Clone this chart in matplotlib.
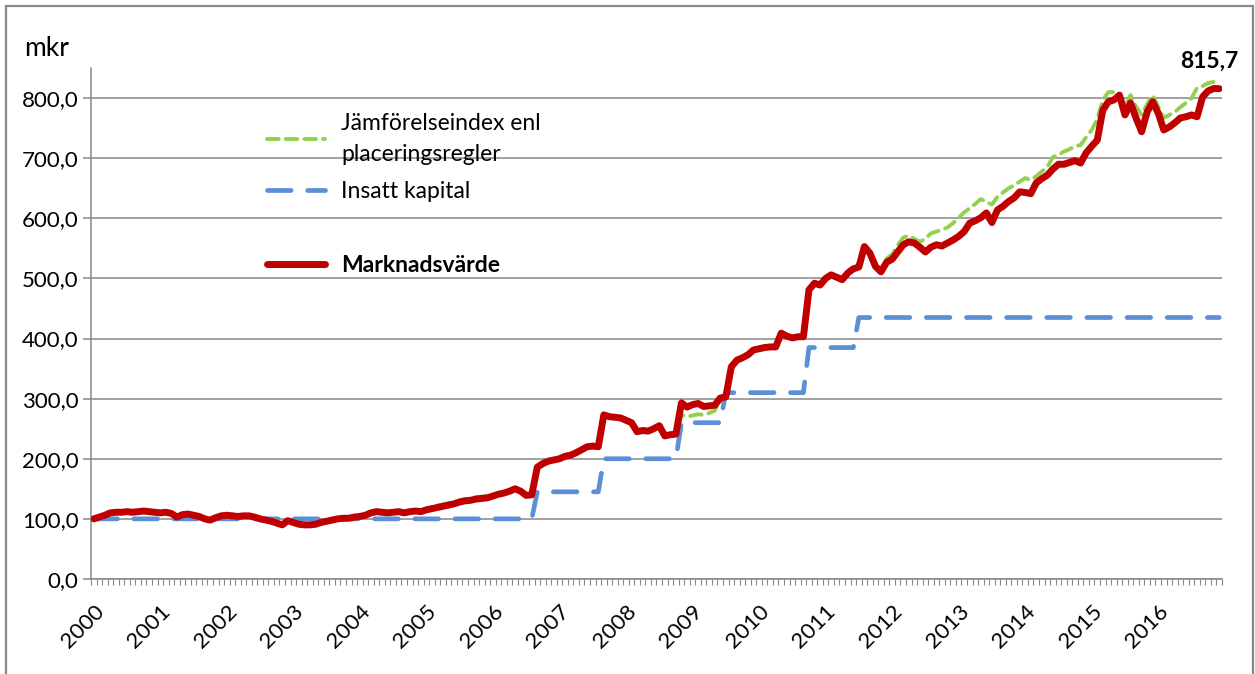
import numpy as np
import matplotlib.pyplot as plt
from matplotlib.patches import Rectangle
from matplotlib.ticker import FuncFormatter, FixedLocator

plt.rcParams['font.family'] = ['Lato', 'DejaVu Sans']

years = [str(y) for y in range(2000, 2017)]

# Marknadsvärde, monthly 2000-2016 (mkr)
marknad = [
    100, 103, 106, 110, 111, 111, 112, 111, 112, 113, 112, 111,
    110, 111, 109, 103, 107, 108, 106, 104, 100, 98, 102, 105,
    106, 105, 104, 105, 105, 103, 100, 98, 96, 93, 90, 97,
    94, 91, 90, 90, 91, 94, 96, 98, 100, 101, 101, 103,
    104, 106, 110, 112, 111, 110, 111, 112, 110, 112, 113, 112,
    115, 117, 119, 121, 123, 125, 128, 130, 131, 133, 134, 135,
    138, 141, 143, 146, 150, 146, 139, 140, 186, 192, 196, 198,
    200, 204, 206, 210, 215, 220, 221, 220, 273, 270, 269, 268,
    264, 260, 245, 247, 246, 250, 255, 238, 240, 241, 293, 286,
    290, 292, 287, 288, 289, 301, 303, 353, 364, 368, 373, 381,
    383, 385, 386, 386, 409, 404, 401, 403, 403, 481, 492, 489,
    500, 506, 502, 498, 509, 516, 519, 553, 542, 520, 511, 527,
    532, 544, 556, 561, 559, 552, 544, 552, 556, 554, 559, 564,
    570, 578, 592, 596, 601, 609, 593, 614, 620, 628, 634, 644,
    643, 641, 659, 666, 672, 682, 690, 690, 693, 696, 692, 709,
    720, 730, 780, 794, 797, 805, 772, 792, 767, 744, 777, 794,
    775, 747, 752, 759, 767, 769, 772, 769, 802, 812, 816, 815.7,
]

# Jämförelseindex enl placeringsregler
index = [
    100, 103, 106, 110, 111, 111, 112, 111, 112, 113, 112, 111,
    110, 111, 109, 103, 107, 108, 106, 104, 100, 98, 102, 105,
    106, 105, 104, 105, 105, 103, 100, 98, 96, 93, 90, 97,
    94, 91, 90, 90, 91, 94, 96, 98, 100, 101, 101, 103,
    104, 106, 110, 112, 111, 110, 111, 112, 111, 113, 114, 114,
    117, 119, 122, 124, 126, 128, 131, 133, 134, 136, 137, 138,
    140, 143, 145, 148, 151, 147, 140, 141, 188, 194, 198, 200,
    202, 206, 208, 212, 216, 221, 222, 221, 272, 270, 269, 268,
    264, 260, 246, 247, 247, 250, 255, 240, 241, 242, 273, 270,
    272, 274, 273, 276, 280, 298, 303, 355, 366, 370, 375, 383,
    385, 387, 388, 388, 410, 406, 402, 404, 405, 482, 493, 491,
    502, 507, 503, 499, 510, 517, 520, 553, 543, 522, 514, 533,
    540, 555, 568, 571, 566, 561, 566, 575, 578, 581, 585, 592,
    601, 610, 617, 624, 632, 627, 623, 636, 643, 650, 655, 661,
    667, 664, 670, 678, 685, 702, 706, 711, 715, 720, 722, 735,
    747, 765, 797, 810, 810, 808, 786, 805, 786, 772, 790, 805,
    786, 767, 772, 777, 785, 792, 800, 817, 820, 825, 827, 830,
]

# Insatt kapital: (first month index, level)
kapital_steps = [(0, 100), (80, 145), (92, 200), (106, 260), (114, 310), (129, 385), (138, 435)]
kapital = np.zeros(len(marknad))
for start, level in kapital_steps:
    kapital[start:] = level

x = np.arange(len(marknad))
fs = 16
fs_leg = 16.5

fig = plt.figure(figsize=(12.55, 6.74), dpi=100)
ax = fig.add_axes([0.0725, 0.141, 0.9012, 0.758])

l_idx, = ax.plot(x, index, color='#92D050', lw=2.8, dashes=(3, 1.8), dash_capstyle='round',
                 label='Jämförelseindex enl\nplaceringsregler', zorder=3)
l_kap, = ax.plot(x, kapital, color='#5B8FD6', lw=3.4, dashes=(5, 3.5), dash_capstyle='round',
                 label='Insatt kapital', zorder=3)
l_mv, = ax.plot(x, marknad, color='#C00000', lw=5, solid_joinstyle='round', solid_capstyle='round',
                label='Marknadsvärde', zorder=4)

ax.annotate(f"{marknad[-1]:.1f}".replace('.', ','), (x[-1], marknad[-1]),
            xytext=(-7, 20), textcoords='offset points', ha='center', va='center',
            fontsize=fs_leg, fontweight='bold')

ax.set_xlim(-0.5, len(x) - 0.5)
ax.set_ylim(0, 850)
ax.set_yticks(np.arange(0, 801, 100))
ax.yaxis.set_major_formatter(FuncFormatter(lambda v, p: f"{v:.1f}".replace('.', ',')))
ax.grid(axis='y', color='#888888', lw=1.1)
ax.set_axisbelow(True)

ax.set_xticks(np.arange(0, len(x), 12))
ax.set_xticklabels(years, rotation=45, ha='right', rotation_mode='anchor')
ax.xaxis.set_minor_locator(FixedLocator(np.arange(-0.5, len(x), 1)))
ax.tick_params(axis='x', which='major', length=0, pad=16, labelsize=fs)
ax.tick_params(axis='x', which='minor', length=4, width=0.8, color='#888888')
ax.tick_params(axis='y', length=6, width=1.1, color='#888888', labelsize=fs, pad=3)

for s in ['top', 'right']:
    ax.spines[s].set_visible(False)
for s in ['left', 'bottom']:
    ax.spines[s].set_color('#888888')
    ax.spines[s].set_linewidth(1.1)

leg1 = ax.legend([l_idx, l_kap], [l_idx.get_label(), l_kap.get_label()],
                 loc='upper left', bbox_to_anchor=(0.1556, 0.913), frameon=False,
                 fontsize=fs_leg, handlelength=2.55, handletextpad=0.7,
                 labelspacing=0.7, borderpad=0, borderaxespad=0)
leg1.get_texts()[0].set_linespacing(1.6)
ax.add_artist(leg1)
leg2 = ax.legend([l_mv], [l_mv.get_label()], loc='center left',
                 bbox_to_anchor=(0.1556, 0.6145), frameon=False,
                 fontsize=fs_leg, handlelength=2.55, handletextpad=0.7,
                 borderpad=0, borderaxespad=0)
leg2.get_texts()[0].set_fontweight('bold')

fig.text(47 / 1255, 1 - 48 / 674, 'mkr', ha='center', va='center', fontsize=19)

fig.patches.append(Rectangle((6 / 1255, -0.05), 1247 / 1255, 1.05 - 6 / 674,
                             transform=fig.transFigure, fill=False,
                             edgecolor='#888888', lw=1.6))

fig.savefig('out.png', dpi=100)
